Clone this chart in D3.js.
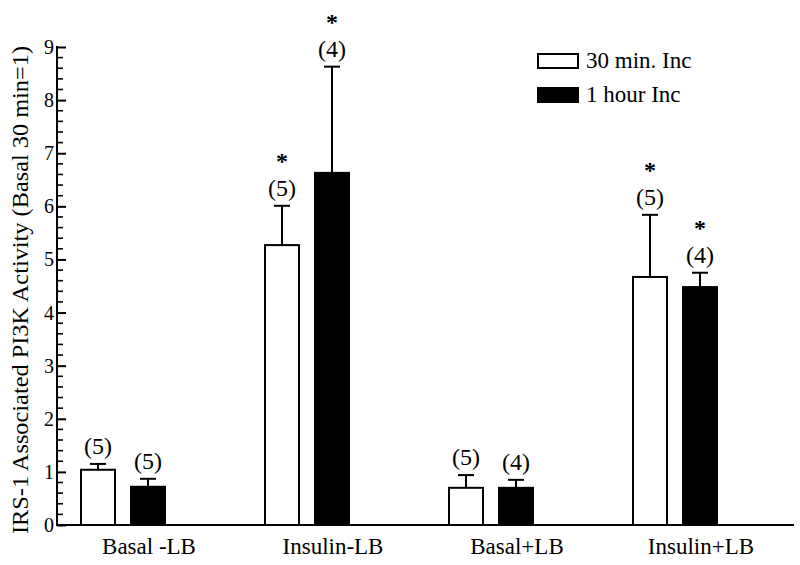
<!DOCTYPE html>
<html>
<head>
<meta charset="utf-8">
<script src="https://cdn.jsdelivr.net/npm/d3@7"></script>
<style>
  body { margin: 0; background: #fff; }
  text { font-family: "Liberation Serif", "Times New Roman", serif; fill: #000; }
</style>
</head>
<body>
<svg id="chart" width="800" height="565"></svg>
<script>
var width = 800,
    height = 565;

// data
var groups = ["Basal -LB", "Insulin-LB", "Basal+LB", "Insulin+LB"];
var series = ["30 min. Inc", "1 hour Inc"];
var means30 = [1.04, 5.27, 0.70, 4.67];
var errTop30 = [1.15, 6.01, 0.94, 5.84];
var n30 = ["(5)", "(5)", "(5)", "(5)"];
var star30 = [false, true, false, true];
var means60 = [0.72, 6.63, 0.70, 4.48];
var errTop60 = [0.87, 8.63, 0.85, 4.75];
var n60 = ["(5)", "(4)", "(4)", "(4)"];
var star60 = [false, true, false, true];
var yTicks = [0, 1, 2, 3, 4, 5, 6, 7, 8, 9];

var svg = d3.select("#chart");

var axisLeft = 57, axisRight = 793;

// group labels sit under the second bar of each pair
var x = d3.scaleBand()
    .domain(groups)
    .range([axisLeft, axisRight]);

var sub = d3.scaleOrdinal()
    .domain(series)
    .range([-51, -1]);

var y = d3.scaleLinear()
    .domain([0, 9])
    .range([525, 47]);

var barW = 34;

// y axis
var yAxis = d3.axisRight(y)
    .tickValues(yTicks)
    .tickSize(9)
    .tickFormat("");
var gy = svg.append("g")
    .attr("transform", "translate(" + axisLeft + ",0)")
    .call(yAxis);
gy.select(".domain").remove();
gy.selectAll(".tick line").attr("stroke", "#000").attr("stroke-width", 2);

// minor ticks every 0.2
var minor = d3.range(0, 9.0001, 0.2).filter(function(d) {
  return Math.abs(d - Math.round(d)) > 0.01;
});
svg.append("g").selectAll("line")
    .data(minor)
    .enter().append("line")
    .attr("x1", axisLeft).attr("x2", axisLeft + 6)
    .attr("y1", function(d) { return y(d); })
    .attr("y2", function(d) { return y(d); })
    .attr("stroke", "#000").attr("stroke-width", 1.6);

svg.append("line")
    .attr("x1", axisLeft).attr("x2", axisLeft)
    .attr("y1", y(9) - 1).attr("y2", y(0) + 1)
    .attr("stroke", "#000").attr("stroke-width", 2);

svg.append("g").selectAll("text")
    .data(yTicks)
    .enter().append("text")
    .attr("x", axisLeft - 3)
    .attr("y", function(d) { return y(d) + 7; })
    .attr("text-anchor", "end")
    .style("font-size", "20px")
    .text(function(d) { return d; });

svg.append("text")
    .attr("transform", "translate(28,290) rotate(-90)")
    .attr("text-anchor", "middle")
    .attr("textLength", 488)
    .attr("lengthAdjust", "spacingAndGlyphs")
    .style("font-size", "23px")
    .text("IRS-1 Associated PI3K Activity (Basal 30 min=1)");

// x axis
svg.append("line")
    .attr("x1", axisLeft).attr("x2", axisRight + 1)
    .attr("y1", y(0)).attr("y2", y(0))
    .attr("stroke", "#000").attr("stroke-width", 2);

svg.append("g").selectAll("text")
    .data(groups)
    .enter().append("text")
    .attr("x", function(d) { return x(d) + x.bandwidth() / 2; })
    .attr("y", 554)
    .attr("text-anchor", "middle")
    .style("font-size", "23px")
    .text(function(d) { return d; });

// bars
var rows = [];
groups.forEach(function(g, i) {
  rows.push({g: g, s: series[0], v: means30[i], e: errTop30[i], n: n30[i], star: star30[i], fill: "#fff"});
  rows.push({g: g, s: series[1], v: means60[i], e: errTop60[i], n: n60[i], star: star60[i], fill: "#000"});
});

function cx(d) { return x(d.g) + x.bandwidth() / 2 + sub(d.s); }

var bars = svg.append("g");

bars.selectAll("line.err")
    .data(rows)
    .enter().append("line")
    .attr("class", "err")
    .attr("x1", cx).attr("x2", cx)
    .attr("y1", function(d) { return y(d.v); })
    .attr("y2", function(d) { return y(d.e); })
    .attr("stroke", "#000").attr("stroke-width", 2);

bars.selectAll("line.cap")
    .data(rows)
    .enter().append("line")
    .attr("class", "cap")
    .attr("x1", function(d) { return cx(d) - 8; })
    .attr("x2", function(d) { return cx(d) + 8; })
    .attr("y1", function(d) { return y(d.e); })
    .attr("y2", function(d) { return y(d.e); })
    .attr("stroke", "#000").attr("stroke-width", 2);

bars.selectAll("rect")
    .data(rows)
    .enter().append("rect")
    .attr("x", function(d) { return cx(d) - barW / 2; })
    .attr("width", barW)
    .attr("y", function(d) { return y(d.v); })
    .attr("height", function(d) { return y(0) - y(d.v); })
    .attr("fill", function(d) { return d.fill; })
    .attr("stroke", "#000").attr("stroke-width", 2);

bars.selectAll("text.n")
    .data(rows)
    .enter().append("text")
    .attr("class", "n")
    .attr("x", cx)
    .attr("y", function(d) { return y(d.e) - 10; })
    .attr("text-anchor", "middle")
    .style("font-size", "24px")
    .text(function(d) { return d.n; });

bars.selectAll("text.star")
    .data(rows.filter(function(d) { return d.star; }))
    .enter().append("text")
    .attr("class", "star")
    .attr("x", cx)
    .attr("y", function(d) { return y(d.e) - 37; })
    .attr("text-anchor", "middle")
    .style("font-size", "24px")
    .style("font-weight", "bold")
    .text("*");

// legend
var legend = svg.append("g").attr("transform", "translate(538,54)");
legend.selectAll("rect")
    .data(series)
    .enter().append("rect")
    .attr("x", 0)
    .attr("y", function(d, i) { return i * 34; })
    .attr("width", 40)
    .attr("height", 14)
    .attr("fill", function(d, i) { return i ? "#000" : "#fff"; })
    .attr("stroke", "#000").attr("stroke-width", 2);
legend.selectAll("text")
    .data(series)
    .enter().append("text")
    .attr("x", 48)
    .attr("y", function(d, i) { return i * 34 + 14; })
    .style("font-size", "23px")
    .text(function(d) { return d; });
</script>
</body>
</html>
